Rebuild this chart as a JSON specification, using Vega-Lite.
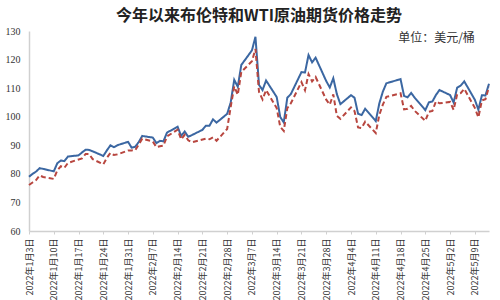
{
  "$schema": "https://vega.github.io/schema/vega-lite/v6.json",
  "width": 460,
  "height": 200,
  "autosize": "none",
  "padding": {"left": 29, "top": 31, "right": 11, "bottom": 69},
  "background": "white",
  "title": {
    "text": "今年以来布伦特和WTI原油期货价格走势",
    "font": "Noto Sans CJK SC",
    "fontSize": 16,
    "fontWeight": "bold",
    "color": "#222222",
    "anchor": "middle",
    "frame": "group",
    "offset": 2
  },
  "config": {
    "view": {"stroke": null},
    "axis": {"labelFont": "Liberation Serif", "labelColor": "#333333", "domainColor": "#d0d0d0", "tickColor": "#d0d0d0", "grid": false}
  },
  "datasets": {
    "prices": [
      {"date": "2022-01-03", "series": "布伦特", "value": 78.98},
      {"date": "2022-01-04", "series": "布伦特", "value": 80.00},
      {"date": "2022-01-05", "series": "布伦特", "value": 80.80},
      {"date": "2022-01-06", "series": "布伦特", "value": 81.99},
      {"date": "2022-01-07", "series": "布伦特", "value": 81.75},
      {"date": "2022-01-10", "series": "布伦特", "value": 80.87},
      {"date": "2022-01-11", "series": "布伦特", "value": 83.72},
      {"date": "2022-01-12", "series": "布伦特", "value": 84.67},
      {"date": "2022-01-13", "series": "布伦特", "value": 84.47},
      {"date": "2022-01-14", "series": "布伦特", "value": 86.06},
      {"date": "2022-01-17", "series": "布伦特", "value": 86.48},
      {"date": "2022-01-18", "series": "布伦特", "value": 87.51},
      {"date": "2022-01-19", "series": "布伦特", "value": 88.44},
      {"date": "2022-01-20", "series": "布伦特", "value": 88.38},
      {"date": "2022-01-21", "series": "布伦特", "value": 87.89},
      {"date": "2022-01-24", "series": "布伦特", "value": 86.27},
      {"date": "2022-01-25", "series": "布伦特", "value": 88.20},
      {"date": "2022-01-26", "series": "布伦特", "value": 89.96},
      {"date": "2022-01-27", "series": "布伦特", "value": 89.34},
      {"date": "2022-01-28", "series": "布伦特", "value": 90.03},
      {"date": "2022-01-31", "series": "布伦特", "value": 91.21},
      {"date": "2022-02-01", "series": "布伦特", "value": 89.16},
      {"date": "2022-02-02", "series": "布伦特", "value": 89.47},
      {"date": "2022-02-03", "series": "布伦特", "value": 91.11},
      {"date": "2022-02-04", "series": "布伦特", "value": 93.27},
      {"date": "2022-02-07", "series": "布伦特", "value": 92.69},
      {"date": "2022-02-08", "series": "布伦特", "value": 90.78},
      {"date": "2022-02-09", "series": "布伦特", "value": 91.55},
      {"date": "2022-02-10", "series": "布伦特", "value": 91.41},
      {"date": "2022-02-11", "series": "布伦特", "value": 94.44},
      {"date": "2022-02-14", "series": "布伦特", "value": 96.48},
      {"date": "2022-02-15", "series": "布伦特", "value": 93.28},
      {"date": "2022-02-16", "series": "布伦特", "value": 94.81},
      {"date": "2022-02-17", "series": "布伦特", "value": 92.97},
      {"date": "2022-02-18", "series": "布伦特", "value": 93.54},
      {"date": "2022-02-21", "series": "布伦特", "value": 95.39},
      {"date": "2022-02-22", "series": "布伦特", "value": 96.84},
      {"date": "2022-02-23", "series": "布伦特", "value": 96.84},
      {"date": "2022-02-24", "series": "布伦特", "value": 99.08},
      {"date": "2022-02-25", "series": "布伦特", "value": 97.93},
      {"date": "2022-02-28", "series": "布伦特", "value": 100.99},
      {"date": "2022-03-01", "series": "布伦特", "value": 104.97},
      {"date": "2022-03-02", "series": "布伦特", "value": 112.93},
      {"date": "2022-03-03", "series": "布伦特", "value": 110.46},
      {"date": "2022-03-04", "series": "布伦特", "value": 118.11},
      {"date": "2022-03-07", "series": "布伦特", "value": 123.21},
      {"date": "2022-03-08", "series": "布伦特", "value": 127.98},
      {"date": "2022-03-09", "series": "布伦特", "value": 111.14},
      {"date": "2022-03-10", "series": "布伦特", "value": 109.33},
      {"date": "2022-03-11", "series": "布伦特", "value": 112.67},
      {"date": "2022-03-14", "series": "布伦特", "value": 106.90},
      {"date": "2022-03-15", "series": "布伦特", "value": 99.91},
      {"date": "2022-03-16", "series": "布伦特", "value": 98.02},
      {"date": "2022-03-17", "series": "布伦特", "value": 106.64},
      {"date": "2022-03-18", "series": "布伦特", "value": 107.93},
      {"date": "2022-03-21", "series": "布伦特", "value": 115.62},
      {"date": "2022-03-22", "series": "布伦特", "value": 115.48},
      {"date": "2022-03-23", "series": "布伦特", "value": 121.60},
      {"date": "2022-03-24", "series": "布伦特", "value": 119.03},
      {"date": "2022-03-25", "series": "布伦特", "value": 120.65},
      {"date": "2022-03-28", "series": "布伦特", "value": 112.48},
      {"date": "2022-03-29", "series": "布伦特", "value": 110.23},
      {"date": "2022-03-30", "series": "布伦特", "value": 113.45},
      {"date": "2022-03-31", "series": "布伦特", "value": 107.91},
      {"date": "2022-04-01", "series": "布伦特", "value": 104.39},
      {"date": "2022-04-04", "series": "布伦特", "value": 107.53},
      {"date": "2022-04-05", "series": "布伦特", "value": 106.64},
      {"date": "2022-04-06", "series": "布伦特", "value": 101.07},
      {"date": "2022-04-07", "series": "布伦特", "value": 100.58},
      {"date": "2022-04-08", "series": "布伦特", "value": 102.78},
      {"date": "2022-04-11", "series": "布伦特", "value": 98.48},
      {"date": "2022-04-12", "series": "布伦特", "value": 104.64},
      {"date": "2022-04-13", "series": "布伦特", "value": 108.78},
      {"date": "2022-04-14", "series": "布伦特", "value": 111.70},
      {"date": "2022-04-18", "series": "布伦特", "value": 113.16},
      {"date": "2022-04-19", "series": "布伦特", "value": 107.25},
      {"date": "2022-04-20", "series": "布伦特", "value": 106.80},
      {"date": "2022-04-21", "series": "布伦特", "value": 108.33},
      {"date": "2022-04-22", "series": "布伦特", "value": 106.65},
      {"date": "2022-04-25", "series": "布伦特", "value": 102.32},
      {"date": "2022-04-26", "series": "布伦特", "value": 104.99},
      {"date": "2022-04-27", "series": "布伦特", "value": 105.32},
      {"date": "2022-04-28", "series": "布伦特", "value": 107.59},
      {"date": "2022-04-29", "series": "布伦特", "value": 109.34},
      {"date": "2022-05-02", "series": "布伦特", "value": 107.58},
      {"date": "2022-05-03", "series": "布伦特", "value": 104.97},
      {"date": "2022-05-04", "series": "布伦特", "value": 110.14},
      {"date": "2022-05-05", "series": "布伦特", "value": 110.90},
      {"date": "2022-05-06", "series": "布伦特", "value": 112.39},
      {"date": "2022-05-09", "series": "布伦特", "value": 105.94},
      {"date": "2022-05-10", "series": "布伦特", "value": 102.46},
      {"date": "2022-05-11", "series": "布伦特", "value": 107.51},
      {"date": "2022-05-12", "series": "布伦特", "value": 107.45},
      {"date": "2022-05-13", "series": "布伦特", "value": 111.55},
      {"date": "2022-01-03", "series": "WTI", "value": 76.08},
      {"date": "2022-01-04", "series": "WTI", "value": 76.99},
      {"date": "2022-01-05", "series": "WTI", "value": 77.85},
      {"date": "2022-01-06", "series": "WTI", "value": 79.46},
      {"date": "2022-01-07", "series": "WTI", "value": 78.90},
      {"date": "2022-01-10", "series": "WTI", "value": 78.23},
      {"date": "2022-01-11", "series": "WTI", "value": 81.22},
      {"date": "2022-01-12", "series": "WTI", "value": 82.64},
      {"date": "2022-01-13", "series": "WTI", "value": 82.12},
      {"date": "2022-01-14", "series": "WTI", "value": 83.82},
      {"date": "2022-01-18", "series": "WTI", "value": 85.43},
      {"date": "2022-01-19", "series": "WTI", "value": 86.96},
      {"date": "2022-01-20", "series": "WTI", "value": 86.90},
      {"date": "2022-01-21", "series": "WTI", "value": 85.14},
      {"date": "2022-01-24", "series": "WTI", "value": 83.31},
      {"date": "2022-01-25", "series": "WTI", "value": 85.60},
      {"date": "2022-01-26", "series": "WTI", "value": 87.35},
      {"date": "2022-01-27", "series": "WTI", "value": 86.61},
      {"date": "2022-01-28", "series": "WTI", "value": 86.82},
      {"date": "2022-01-31", "series": "WTI", "value": 88.15},
      {"date": "2022-02-01", "series": "WTI", "value": 88.20},
      {"date": "2022-02-02", "series": "WTI", "value": 88.26},
      {"date": "2022-02-03", "series": "WTI", "value": 90.27},
      {"date": "2022-02-04", "series": "WTI", "value": 92.31},
      {"date": "2022-02-07", "series": "WTI", "value": 91.32},
      {"date": "2022-02-08", "series": "WTI", "value": 89.36},
      {"date": "2022-02-09", "series": "WTI", "value": 89.66},
      {"date": "2022-02-10", "series": "WTI", "value": 89.88},
      {"date": "2022-02-11", "series": "WTI", "value": 93.10},
      {"date": "2022-02-14", "series": "WTI", "value": 95.46},
      {"date": "2022-02-15", "series": "WTI", "value": 92.07},
      {"date": "2022-02-16", "series": "WTI", "value": 93.66},
      {"date": "2022-02-17", "series": "WTI", "value": 91.76},
      {"date": "2022-02-18", "series": "WTI", "value": 91.07},
      {"date": "2022-02-22", "series": "WTI", "value": 92.35},
      {"date": "2022-02-23", "series": "WTI", "value": 92.10},
      {"date": "2022-02-24", "series": "WTI", "value": 92.81},
      {"date": "2022-02-25", "series": "WTI", "value": 91.59},
      {"date": "2022-02-28", "series": "WTI", "value": 95.72},
      {"date": "2022-03-01", "series": "WTI", "value": 103.41},
      {"date": "2022-03-02", "series": "WTI", "value": 110.60},
      {"date": "2022-03-03", "series": "WTI", "value": 107.67},
      {"date": "2022-03-04", "series": "WTI", "value": 115.68},
      {"date": "2022-03-07", "series": "WTI", "value": 119.40},
      {"date": "2022-03-08", "series": "WTI", "value": 123.70},
      {"date": "2022-03-09", "series": "WTI", "value": 108.70},
      {"date": "2022-03-10", "series": "WTI", "value": 106.02},
      {"date": "2022-03-11", "series": "WTI", "value": 109.33},
      {"date": "2022-03-14", "series": "WTI", "value": 103.01},
      {"date": "2022-03-15", "series": "WTI", "value": 96.44},
      {"date": "2022-03-16", "series": "WTI", "value": 95.04},
      {"date": "2022-03-17", "series": "WTI", "value": 102.98},
      {"date": "2022-03-18", "series": "WTI", "value": 104.70},
      {"date": "2022-03-21", "series": "WTI", "value": 112.12},
      {"date": "2022-03-22", "series": "WTI", "value": 109.27},
      {"date": "2022-03-23", "series": "WTI", "value": 114.93},
      {"date": "2022-03-24", "series": "WTI", "value": 112.34},
      {"date": "2022-03-25", "series": "WTI", "value": 113.90},
      {"date": "2022-03-28", "series": "WTI", "value": 105.96},
      {"date": "2022-03-29", "series": "WTI", "value": 104.24},
      {"date": "2022-03-30", "series": "WTI", "value": 107.82},
      {"date": "2022-03-31", "series": "WTI", "value": 100.28},
      {"date": "2022-04-01", "series": "WTI", "value": 99.27},
      {"date": "2022-04-04", "series": "WTI", "value": 103.28},
      {"date": "2022-04-05", "series": "WTI", "value": 101.96},
      {"date": "2022-04-06", "series": "WTI", "value": 96.23},
      {"date": "2022-04-07", "series": "WTI", "value": 96.03},
      {"date": "2022-04-08", "series": "WTI", "value": 98.26},
      {"date": "2022-04-11", "series": "WTI", "value": 94.29},
      {"date": "2022-04-12", "series": "WTI", "value": 100.60},
      {"date": "2022-04-13", "series": "WTI", "value": 104.25},
      {"date": "2022-04-14", "series": "WTI", "value": 106.95},
      {"date": "2022-04-18", "series": "WTI", "value": 108.21},
      {"date": "2022-04-19", "series": "WTI", "value": 102.56},
      {"date": "2022-04-20", "series": "WTI", "value": 102.75},
      {"date": "2022-04-21", "series": "WTI", "value": 103.79},
      {"date": "2022-04-22", "series": "WTI", "value": 102.07},
      {"date": "2022-04-25", "series": "WTI", "value": 98.54},
      {"date": "2022-04-26", "series": "WTI", "value": 101.70},
      {"date": "2022-04-27", "series": "WTI", "value": 102.02},
      {"date": "2022-04-28", "series": "WTI", "value": 105.36},
      {"date": "2022-04-29", "series": "WTI", "value": 104.69},
      {"date": "2022-05-02", "series": "WTI", "value": 105.17},
      {"date": "2022-05-03", "series": "WTI", "value": 102.41},
      {"date": "2022-05-04", "series": "WTI", "value": 107.81},
      {"date": "2022-05-05", "series": "WTI", "value": 108.26},
      {"date": "2022-05-06", "series": "WTI", "value": 109.77},
      {"date": "2022-05-09", "series": "WTI", "value": 103.09},
      {"date": "2022-05-10", "series": "WTI", "value": 99.76},
      {"date": "2022-05-11", "series": "WTI", "value": 105.71},
      {"date": "2022-05-12", "series": "WTI", "value": 106.13},
      {"date": "2022-05-13", "series": "WTI", "value": 110.49}
    ],
    "note": [
      {"date": "2022-05-09", "value": 127.4, "label": "单位：美元/桶"}
    ]
  },
  "encoding": {
    "x": {
      "field": "date",
      "type": "temporal",
      "scale": {"type": "utc", "domain": ["2022-01-03", "2022-05-13"], "nice": false},
      "axis": {
        "title": null,
        "labelExpr": "utcFormat(datum.value, '%Y年%-m月%-d日')",
        "values": [
          {"year": 2022, "month": 1, "date": 3, "utc": true},
          {"year": 2022, "month": 1, "date": 10, "utc": true},
          {"year": 2022, "month": 1, "date": 17, "utc": true},
          {"year": 2022, "month": 1, "date": 24, "utc": true},
          {"year": 2022, "month": 1, "date": 31, "utc": true},
          {"year": 2022, "month": 2, "date": 7, "utc": true},
          {"year": 2022, "month": 2, "date": 14, "utc": true},
          {"year": 2022, "month": 2, "date": 21, "utc": true},
          {"year": 2022, "month": 2, "date": 28, "utc": true},
          {"year": 2022, "month": 3, "date": 7, "utc": true},
          {"year": 2022, "month": 3, "date": 14, "utc": true},
          {"year": 2022, "month": 3, "date": 21, "utc": true},
          {"year": 2022, "month": 3, "date": 28, "utc": true},
          {"year": 2022, "month": 4, "date": 4, "utc": true},
          {"year": 2022, "month": 4, "date": 11, "utc": true},
          {"year": 2022, "month": 4, "date": 18, "utc": true},
          {"year": 2022, "month": 4, "date": 25, "utc": true},
          {"year": 2022, "month": 5, "date": 2, "utc": true},
          {"year": 2022, "month": 5, "date": 9, "utc": true}
        ],
        "labelAngle": 270,
        "labelAlign": "right",
        "labelBaseline": "middle",
        "labelFontSize": 9,
        "labelFont": "Noto Sans CJK SC",
        "labelPadding": 4,
        "labelOverlap": false,
        "labelFlush": false,
        "tickSize": 3,
        "domainWidth": 1.5
      }
    },
    "y": {
      "field": "value",
      "type": "quantitative",
      "scale": {"domain": [60, 130], "nice": false, "zero": false},
      "axis": {
        "title": null,
        "values": [60, 70, 80, 90, 100, 110, 120, 130],
        "ticks": false,
        "labelPadding": 9,
        "labelFontSize": 10,
        "domainWidth": 1.5
      }
    }
  },
  "layer": [
    {
      "data": {"name": "prices"},
      "mark": {"type": "line", "strokeWidth": 2, "interpolate": "linear"},
      "encoding": {
        "color": {
          "field": "series",
          "type": "nominal",
          "scale": {"domain": ["布伦特", "WTI"], "range": ["#3B67A2", "#B8463F"]},
          "legend": null
        },
        "strokeDash": {
          "field": "series",
          "type": "nominal",
          "scale": {"domain": ["布伦特", "WTI"], "range": [[1, 0], [5, 3]]},
          "legend": null
        }
      }
    },
    {
      "data": {"name": "note"},
      "mark": {"type": "text", "align": "right", "baseline": "middle", "font": "Noto Sans CJK SC", "fontSize": 12, "color": "#333333"},
      "encoding": {
        "text": {"field": "label"}
      }
    }
  ]
}
